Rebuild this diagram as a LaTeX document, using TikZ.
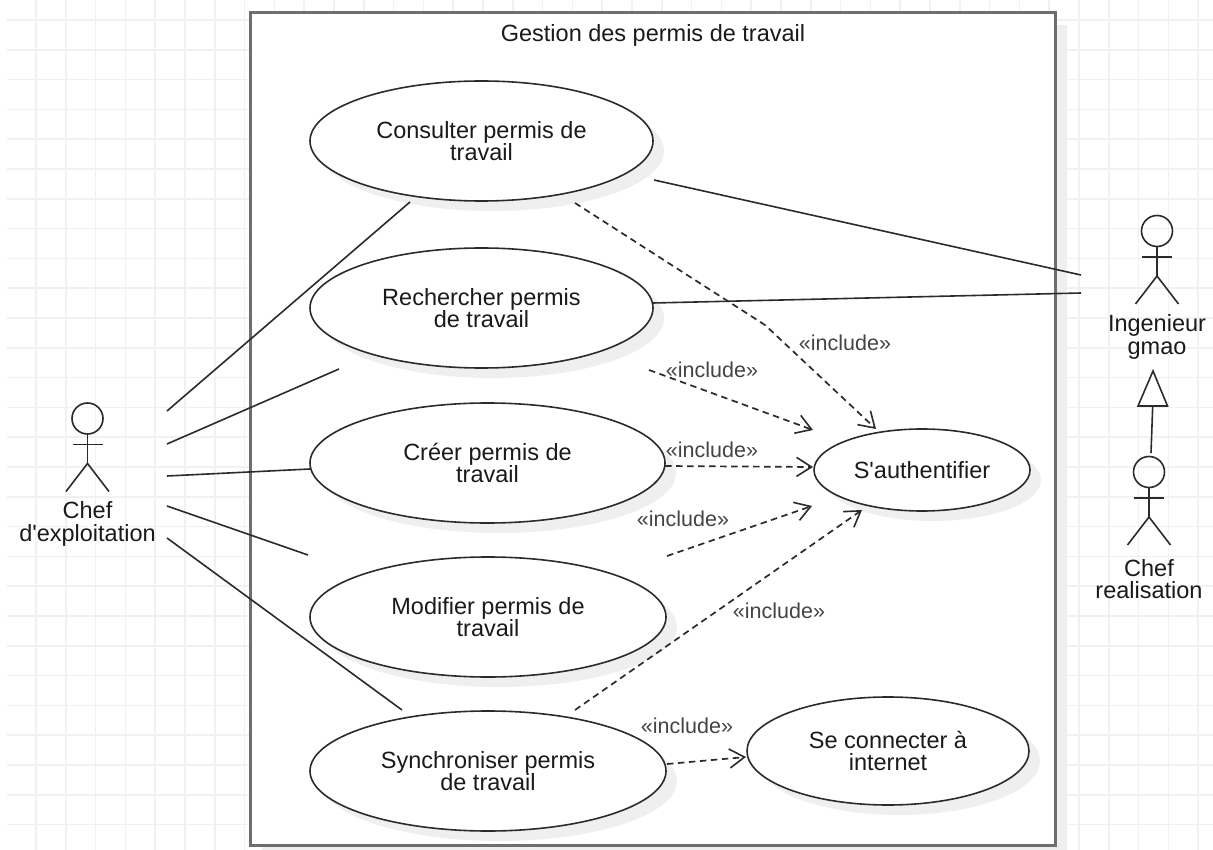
\documentclass[tikz,border=0pt]{standalone}
\usepackage{fontspec}
\setmainfont{Liberation Sans}[Ligatures=TeXOff]
\usetikzlibrary{arrows.meta,shapes.geometric,shadows}
\definecolor{gridc}{HTML}{F1F1F1}
\definecolor{shadowc}{HTML}{EFEFEF}
\definecolor{framec}{HTML}{6E6E6E}
\definecolor{linec}{HTML}{2B2B2B}
\definecolor{textc}{HTML}{1A1A1A}
\definecolor{inclc}{HTML}{444444}
\tikzset{
  x=1pt,y=-1pt,
  lbl/.style={font=\fontsize{23.5}{22.5}\selectfont,text=textc,align=center,inner sep=0pt},
  usecase/.style={ellipse,draw=linec,line width=1.6pt,fill=white,inner sep=0pt,outer sep=0pt,
    font=\fontsize{23.5}{22.5}\selectfont,text=textc,align=center,
    general shadow={fill=shadowc,shadow xshift=11pt,shadow yshift=-10pt}},
  assoc/.style={draw=linec,line width=1.6pt},
  incl/.style={draw=linec,line width=1.7pt,dash pattern=on 6.5pt off 4.5pt,
    -{Straight Barb[length=15pt,width=19pt,line width=1.6pt]}},
  incllbl/.style={font=\fontsize{21.5}{22}\selectfont,text=inclc,inner sep=0pt},
  stick/.style={draw=linec,line width=1.6pt},
  pics/stickman/.style={code={
    \draw[stick] (0,0) circle[radius=15.5pt];
    \draw[stick] (0,15.5) -- (0,45);
    \draw[stick] (-15,26) -- (15,26);
    \draw[stick] (-21.5,73) -- (0,45) -- (21.5,73);
  }}
}
\begin{document}
\begin{tikzpicture}
\useasboundingbox (0,0) rectangle (1213,850);
\fill[white] (0,0) rectangle (1213,850);
% grid
\foreach \i in {0,...,39} \draw[gridc,line width=1.5pt] ({36+29.8*\i},0) -- ({36+29.8*\i},850);
\foreach \i in {0,...,27} \draw[gridc,line width=1.5pt] (7,{20+29.8*\i}) -- (1213,{20+29.8*\i});
% system frame
\fill[shadowc] (262,25) rectangle (1067,857);
\node[draw=framec,line width=3pt,fill=white,minimum width=805pt,minimum height=832pt,inner sep=0pt,outer sep=0pt] (frame) at (652.5,429) {};
\node[lbl] (title) at (653,33) [yshift=-2pt] {Gestion des permis de travail};
% use cases
\node[usecase,minimum width=343pt,minimum height=120pt] (consulter) at (481.5,141) {Consulter permis de\\travail};
\node[usecase,minimum width=343pt,minimum height=120pt] (rechercher) at (481.5,308) {Rechercher permis\\de travail};
\node[usecase,minimum width=355pt,minimum height=120pt] (creer) at (487.5,463) {Créer permis de\\travail};
\node[usecase,minimum width=356pt,minimum height=120pt] (modifier) at (488,617) {Modifier permis de\\travail};
\node[usecase,minimum width=356pt,minimum height=120pt] (synchro) at (488,771) {Synchroniser permis\\de travail};
\node[usecase,minimum width=216pt,minimum height=82pt] (auth) at (922,470) {S'authentifier};
\node[usecase,minimum width=282pt,minimum height=108pt] (connect) at (888,751) {Se connecter à\\internet};
% actors
\pic at (87.5,418.5) {stickman};
\node[lbl] (chef) at (87.5,524) {Chef\\d'exploitation};
\pic at (1157,231) {stickman};
\node[lbl] (ingenieur) at (1157,337) {Ingenieur\\gmao};
\pic at (1149,472) {stickman};
\node[lbl] (realisation) at (1149,579) {Chef\\realisation};
% free connector ends
\coordinate (c1) at (167,411); \coordinate (u1) at (410,202);
\coordinate (c2) at (167,444); \coordinate (u2) at (339,369);
\coordinate (c3) at (167,476); \coordinate (u3) at (310,469);
\coordinate (c4) at (167,506); \coordinate (u4) at (308,555);
\coordinate (c5) at (167,538); \coordinate (u5) at (402,710);
\coordinate (i1) at (1081,275); \coordinate (v1) at (654,180);
\coordinate (i2) at (1081,293); \coordinate (v2) at (653,303);
% associations
\draw[assoc] (c1) -- (u1);
\draw[assoc] (c2) -- (u2);
\draw[assoc] (c3) -- (u3);
\draw[assoc] (c4) -- (u4);
\draw[assoc] (c5) -- (u5);
\draw[assoc] (v1) -- (i1);
\draw[assoc] (v2) -- (i2);
% generalisation
\coordinate (g0) at (1151,453);
\coordinate (g1) at (1152.7,406);
\draw[assoc] (g0) -- (g1);
\draw[assoc,fill=white] (1138,406) -- (1153,371) -- (1167.5,406) -- cycle;
% includes
\coordinate (d1a) at (575,203); \coordinate (d1b) at (765,325); \coordinate (d1c) at (876,429);
\coordinate (d2a) at (649,370); \coordinate (d2c) at (813,430);
\coordinate (d3a) at (665,466); \coordinate (d3c) at (813,467);
\coordinate (d4a) at (667,556); \coordinate (d4c) at (812,506);
\coordinate (d5a) at (575,710); \coordinate (d5c) at (862,510);
\coordinate (d6a) at (667,764); \coordinate (d6c) at (746,757);
\draw[incl] (d1a) -- (d1b) -- (d1c);
\draw[incl] (d2a) -- (d2c);
\draw[incl] (d3a) -- (d3c);
\draw[incl] (d4a) -- (d4c);
\draw[incl] (d5a) -- (d5c);
\draw[incl] (d6a) -- (d6c);
\node[incllbl] (l1) at (845,343) {«include»};
\node[incllbl] (l2) at (712,370) {«include»};
\node[incllbl] (l3) at (712,450) {«include»};
\node[incllbl] (l4) at (683,519) {«include»};
\node[incllbl] (l5) at (779,611) {«include»};
\node[incllbl] (l6) at (687,726) {«include»};
\end{tikzpicture}
\end{document}
